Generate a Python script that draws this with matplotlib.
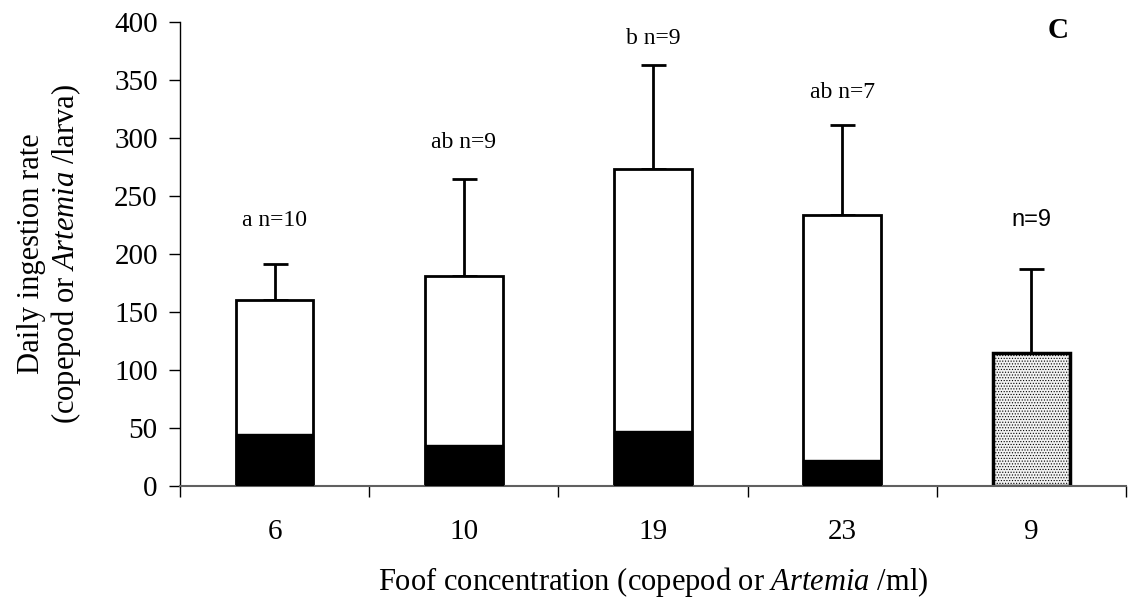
import matplotlib
matplotlib.use("Agg")
import matplotlib.pyplot as plt
import numpy as np

plt.rcParams["font.family"] = "Liberation Serif"
plt.rcParams["mathtext.fontset"] = "custom"
plt.rcParams["mathtext.rm"] = "Liberation Serif"
plt.rcParams["mathtext.it"] = "Liberation Serif:italic"
plt.rcParams["hatch.linewidth"] = 0.5
plt.rcParams["hatch.color"] = "#b0b0b0"

# food concentration groups
categorias = ["6", "10", "19", "23", "9"]
total = [160, 181, 273, 234, 115]      # daily ingestion (mean)
parte_preta = [45, 35, 47, 22, 0]      # lower black segment
erro_sup = [31, 84, 90, 77, 72]        # upper error (SD)
rotulos = ["a n=10", "ab n=9", "b n=9", "ab n=7", "n=9"]
rotulo_y = [229, 296, 386, 339, 229]

W, H = 1128, 604
fig = plt.figure(figsize=(W / 100, H / 100), dpi=100)
# plot area in pixels: x 180..1126, y 22..486
ax = fig.add_axes([180 / W, (H - 486) / H, 946 / W, 464 / H])

x = np.arange(len(categorias))
larg = 0.41

for i in range(len(categorias)):
    if i < 4:
        ax.bar(x[i], total[i], width=larg, color="white", edgecolor="black",
               linewidth=2, zorder=2)
        ax.bar(x[i], parte_preta[i], width=larg, color="black",
               edgecolor="black", linewidth=1, zorder=3)
    else:
        ax.bar(x[i], total[i], width=larg, color="#f2f2f2", edgecolor="black",
               linewidth=2.5, hatch="......", zorder=2)
    ax.errorbar(x[i], total[i], yerr=[[0], [erro_sup[i]]], fmt="none",
                ecolor="black", elinewidth=2, capsize=9, capthick=2, zorder=1)
    fam = "Liberation Sans" if i == 4 else "Liberation Serif"
    ax.text(x[i], rotulo_y[i], rotulos[i], ha="center", va="center",
            fontsize=17, family=fam, clip_on=False)

ax.set_xlim(-0.5, 4.5)
ax.set_ylim(0, 400)
ax.set_yticks(range(0, 401, 50))
ax.tick_params(axis="y", labelsize=21, length=8, width=1, direction="out", pad=8)

ax.set_xticks(x)
ax.set_xticklabels(categorias, fontsize=21)
ax.tick_params(axis="x", length=0, pad=24)
ax.set_xticks(np.arange(-0.5, 4.6, 1), minor=True)
ax.tick_params(axis="x", which="minor", length=8, width=1, direction="out")

for s in ["top", "right"]:
    ax.spines[s].set_visible(False)
ax.spines["left"].set_linewidth(1)
ax.spines["bottom"].set_linewidth(1.5)
ax.spines["bottom"].set_color("#606060")

fig.text(50 / W, (H - 254) / H,
         "Daily ingestion rate\n(copepod or $\\it{Artemia}$ /larva)",
         rotation=90, ha="center", va="center", fontsize=22,
         linespacing=1.1, multialignment="center")
# axis title sits just above the bottom edge
fig.text((180 + 473) / W, (H - 582) / H,
         "Foof concentration (copepod or $\\it{Artemia}$ /ml)",
         ha="center", va="center", fontsize=22)

ax.text(4.14, 393, "C", fontsize=21, fontweight="bold", ha="center",
        va="center")

fig.savefig("out.png", dpi=100)
